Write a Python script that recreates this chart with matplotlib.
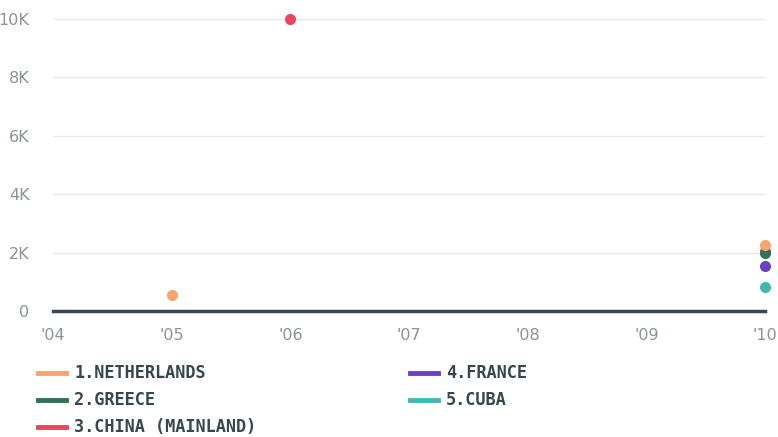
import matplotlib
matplotlib.use("Agg")
import matplotlib.pyplot as plt
from matplotlib.lines import Line2D
import numpy as np

years = [2004, 2005, 2006, 2007, 2008, 2009, 2010]
x_labels = ["'04", "'05", "'06", "'07", "'08", "'09", "'10"]
series_names = ["1.NETHERLANDS", "2.GREECE", "3.CHINA (MAINLAND)", "4.FRANCE", "5.CUBA"]
netherlands = [np.nan, 550, np.nan, np.nan, np.nan, np.nan, 2270]
greece = [np.nan, np.nan, np.nan, np.nan, np.nan, np.nan, 2000]
china = [np.nan, np.nan, 10000, np.nan, np.nan, np.nan, 2050]
france = [np.nan, np.nan, np.nan, np.nan, np.nan, np.nan, 1540]
cuba = [np.nan, np.nan, np.nan, np.nan, np.nan, np.nan, 830]
y_ticks = [0, 2000, 4000, 6000, 8000, 10000]
y_labels = ["0", "2K", "4K", "6K", "8K", "10K"]

series = [netherlands, greece, china, france, cuba]
colors = ["#f9a36f", "#2e7356", "#e8475f", "#6d3fc6", "#3dbab5"]

W, H = 778, 437
fig = plt.figure(figsize=(W / 100, H / 100), dpi=100)
ax = fig.add_axes([53 / W, (H - 311) / H, (765 - 53) / W, (311 - 19) / H])

ax.set_xlim(2004, 2010)
ax.set_ylim(0, 10000)
for yt in y_ticks[1:]:
    ax.axhline(yt, color="#e8e8e8", lw=1, zorder=0)
ax.axhline(0, color="#37474f", lw=2.5, zorder=1, clip_on=False)

for vals, c in reversed(list(zip(series, colors))):
    ax.plot(years, vals, "o", color=c, ms=8, mec="none", clip_on=False, zorder=3)

for s in ax.spines.values():
    s.set_visible(False)
ax.set_yticks(y_ticks)
ax.set_yticklabels(y_labels)
ax.set_xticks(years)
ax.set_xticklabels(x_labels)
ax.tick_params(axis="both", length=0, colors="#8a9396", labelsize=11.5)
ax.tick_params(axis="y", pad=17)
ax.tick_params(axis="x", pad=12)

legend_pos = [(38, 373), (38, 400), (38, 427), (410, 373), (410, 400)]
for (lx, ly), name, c in zip(legend_pos, series_names, colors):
    fig.add_artist(Line2D([lx / W, (lx + 28) / W], [(H - ly) / H] * 2, color=c, lw=3.5,
                          transform=fig.transFigure))
    fig.text((lx + 36) / W, (H - ly) / H, name, color="#37474f", fontsize=12.2,
             fontweight="bold", family="DejaVu Sans Mono", va="center", ha="left")

fig.savefig("out.png", dpi=100)
